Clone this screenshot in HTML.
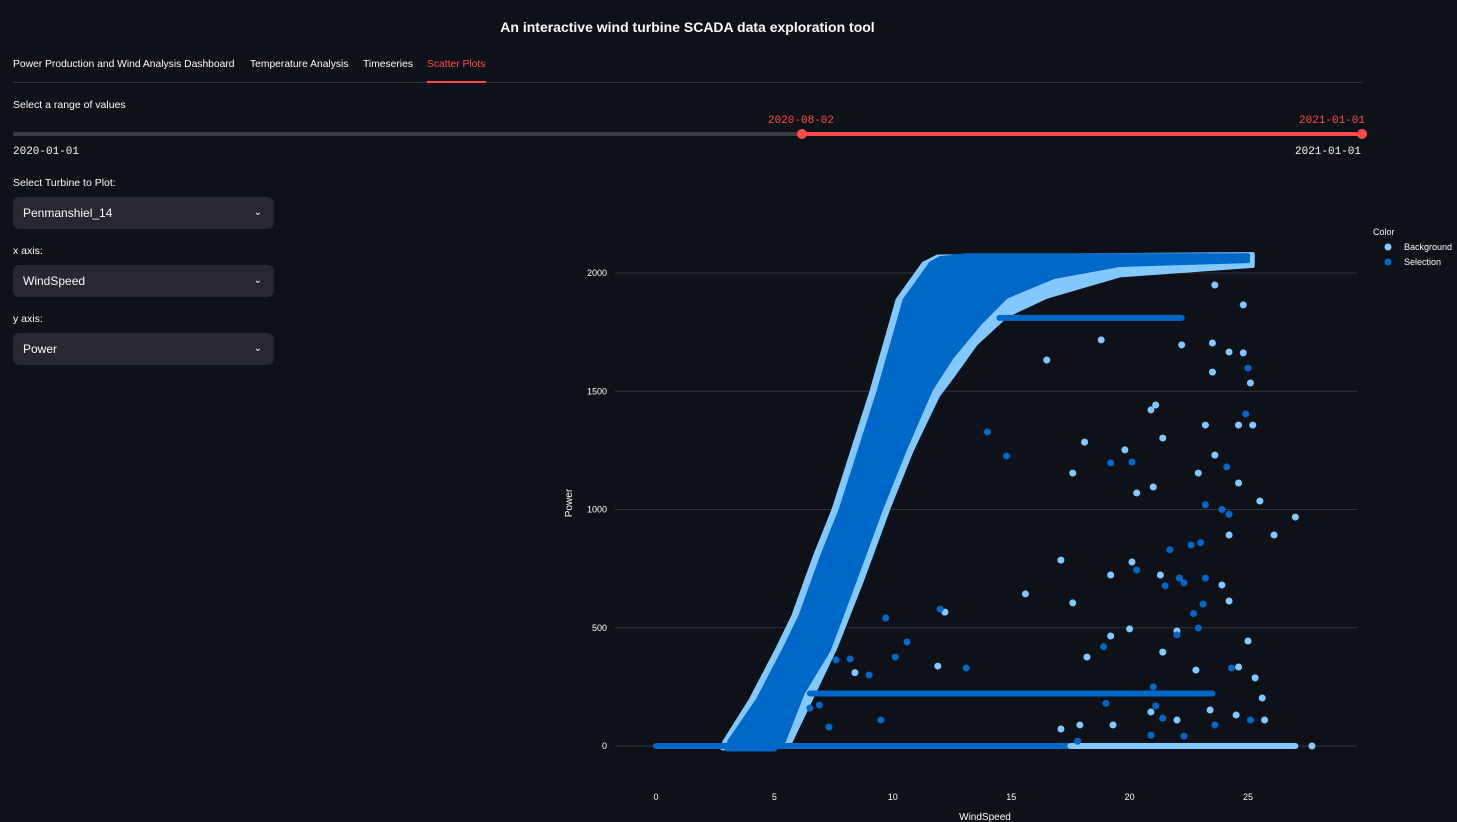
<!DOCTYPE html>
<html><head><meta charset="utf-8">
<style>
body{margin:0;background:#0e1117;width:1457px;height:822px;overflow:hidden;font-family:"Liberation Sans",sans-serif;color:#fafafa;position:relative}
.abs{position:absolute}
.title{left:0;width:1375px;top:19px;text-align:center;font-size:14px;font-weight:bold}
.tab{top:59px;font-size:10.3px;white-space:nowrap}
.lbl{font-size:10.5px}
.mono{font-family:"Liberation Mono",monospace;font-size:11px}
.sel{left:13px;width:261px;height:32px;background:#262730;border-radius:6px;font-size:12px;line-height:32px;text-indent:10px}
.sel span.ch{position:absolute;right:12px;top:0;font-size:10px}
</style></head><body>
<div class="abs title">An interactive wind turbine SCADA data exploration tool</div>
<div class="abs tab" style="left:13px">Power Production and Wind Analysis Dashboard</div>
<div class="abs tab" style="left:250px">Temperature Analysis</div>
<div class="abs tab" style="left:363px">Timeseries</div>
<div class="abs tab" style="left:427px;color:#ff4b4b">Scatter Plots</div>
<div class="abs" style="left:13px;top:82px;width:1349px;height:1px;background:#31333f"></div>
<div class="abs" style="left:427px;top:81px;width:59px;height:2px;background:#ff4b4b"></div>
<div class="abs lbl" style="left:13px;top:99px">Select a range of values</div>
<div class="abs" style="left:13px;top:132px;width:1349px;height:4px;background:#3b3d46;border-radius:2px"></div>
<div class="abs" style="left:802px;top:132px;width:560px;height:4px;background:#ff4b4b"></div>
<div class="abs" style="left:797px;top:129px;width:10px;height:10px;border-radius:50%;background:#ff4b4b"></div>
<div class="abs" style="left:1357px;top:129px;width:10px;height:10px;border-radius:50%;background:#ff4b4b"></div>
<div class="abs mono" style="left:768px;top:115px;color:#ff4b4b">2020-08-02</div>
<div class="abs mono" style="left:1299px;top:115px;color:#ff4b4b">2021-01-01</div>
<div class="abs mono" style="left:13px;top:146px">2020-01-01</div>
<div class="abs mono" style="left:1295px;top:146px">2021-01-01</div>
<div class="abs lbl" style="left:13px;top:177px">Select Turbine to Plot:</div>
<div class="abs sel" style="top:197px">Penmanshiel_14<span class="ch">&#8964;</span></div>
<div class="abs lbl" style="left:13px;top:245px">x axis:</div>
<div class="abs sel" style="top:265px">WindSpeed<span class="ch">&#8964;</span></div>
<div class="abs lbl" style="left:13px;top:313px">y axis:</div>
<div class="abs sel" style="top:333px">Power<span class="ch">&#8964;</span></div>
<svg class="abs" style="left:0;top:0" width="1457" height="822" id="chart"></svg>
<script>
const xTicks=[0,5,10,15,20,25];
const yTicks=[0,500,1000,1500,2000];
// band edges: [wind, power]
const bandLeft=[[3.0,-15],[3.1,20],[4.3,195],[5.4,406],[6.1,550],[7.0,800],[7.8,1000],[8.6,1250],[9.4,1500],[10.5,1886],[11.6,2040],[12.0,2063],[13.1,2075],[25.0,2075]];
const bandRight=[[25.0,2050],[19.6,2034],[16.8,1983],[14.8,1900],[13.7,1789],[12.5,1645],[11.6,1505],[10.5,1250],[9.5,1000],[8.4,700],[7.3,406],[6.2,224],[5.4,20],[5.0,-15]];
const bgLeft=[[2.8,-10],[2.9,20],[4.0,195],[5.1,406],[5.8,550],[6.7,800],[7.5,1000],[8.3,1250],[9.1,1500],[10.2,1886],[11.3,2040],[11.9,2070],[25.2,2080]];
const bgRight=[[25.2,2030],[19.6,1990],[16.5,1900],[14.8,1820],[13.5,1700],[12.5,1560],[11.9,1480],[10.8,1250],[9.8,1000],[8.7,700],[7.6,420],[6.6,210],[5.6,0]];
// horizontal streaks: [wind start, wind end, power, series]
const streaks=[[0,17.5,0,'sel'],[17.5,27.0,0,'bg'],[6.5,23.5,222,'sel'],[14.5,22.2,1810,'sel']];
const bgX=[24.8,24.2,23.5,25.1,21.1,20.9,21.4,18.1,23.2,24.6,25.2,23.6,19.8,17.6,22.9,24.6,20.3,21.0,25.5,27.0,26.1,24.2,17.1,20.1,19.2,21.3,15.6,17.6,23.9,24.2,12.2,19.2,20.0,22.0,25.0,18.2,21.4,24.6,22.8,11.9,25.3,25.6,25.7,24.5,19.3,17.9,17.1,20.9,22.0,23.4,16.5,18.8,23.5,23.6,24.8,22.2,27.7,8.4];
const bgY=[1662,1666,1581,1535,1442,1421,1302,1285,1357,1357,1357,1230,1252,1154,1154,1112,1070,1095,1036,968,892,892,786,778,723,723,643,605,681,613,566,465,495,486,444,376,397,334,321,338,288,203,110,131,89,89,72,144,110,152,1632,1717,1704,1949,1865,1696,0,310];
const selX=[14.0,14.8,19.2,20.1,22.6,23.1,20.3,21.5,22.1,23.2,22.9,24.3,23.6,21.1,21.4,22.3,12.0,9.7,10.6,10.1,8.2,9.5,13.1,24.9,25.0,25.1,20.9,7.6,6.9,23.0,22.0,24.2,19.0,21.0,23.9,6.5,7.3,9.0,23.2,18.9,17.8,21.7,22.7,24.1,22.3];
const selY=[1328,1226,1197,1201,850,600,744,677,710,710,499,330,89,169,118,42,579,541,440,376,368,110,330,1404,1598,110,46,364,173,860,470,980,180,250,1000,160,80,300,1020,420,20,830,560,1180,690];
const svg=document.getElementById('chart');const NS='http://www.w3.org/2000/svg';
const X=v=>656+v*23.68, Y=v=>746-v*0.2365;
const SEL='#0068c9', BG='#83c9ff';
function mk(t,a){const e=document.createElementNS(NS,t);for(const k in a)e.setAttribute(k,a[k]);svg.appendChild(e);return e;}
yTicks.forEach(t=>{const l=mk('line',{x1:615,x2:1357,y1:Y(t),y2:Y(t),stroke:'#31333f','stroke-width':1});


const tx=mk('text',{x:607,y:Y(t)+3,'text-anchor':'end','font-size':9,fill:'#fafafa','font-family':'Liberation Sans,sans-serif'});tx.textContent=t;

});
xTicks.forEach(t=>{const tx=mk('text',{x:X(t),y:800,'text-anchor':'middle','font-size':9,fill:'#fafafa','font-family':'Liberation Sans,sans-serif'});tx.textContent=t;

});
function poly(a,b,c,n){const p=a.concat(b).map(d=>X(d[0])+','+Y(d[1])).join(' ');const e=mk('polygon',{points:p,fill:c,stroke:c,'stroke-width':4,'stroke-linejoin':'round'});

}
poly(bgLeft,bgRight,BG,'background-band');
poly(bandLeft,bandRight,SEL,'selection-band');
streaks.forEach(s=>{const e=mk('line',{x1:X(s[0]),x2:X(s[1]),y1:Y(s[2]),y2:Y(s[2]),stroke:s[3]=='sel'?SEL:BG,'stroke-width':6,'stroke-linecap':'round'});

});
bgX.forEach((v,i)=>{const c=mk('circle',{cx:X(v),cy:Y(bgY[i]),r:3.5,fill:BG});

});
selX.forEach((v,i)=>{const c=mk('circle',{cx:X(v),cy:Y(selY[i]),r:3.5,fill:SEL});

});
const yt=mk('text',{x:572,y:503,'text-anchor':'middle','font-size':10,fill:'#fafafa',transform:'rotate(-90 572 503)','font-family':'Liberation Sans,sans-serif'});yt.textContent='Power';


const xt=mk('text',{x:985,y:820,'text-anchor':'middle','font-size':10,fill:'#fafafa','font-family':'Liberation Sans,sans-serif'});xt.textContent='WindSpeed';


const lt=mk('text',{x:1373,y:235,'font-size':9,fill:'#fafafa','font-family':'Liberation Sans,sans-serif'});lt.textContent='Color';


[['Background',BG,247],['Selection',SEL,262]].forEach(d=>{const c=mk('circle',{cx:1388,cy:d[2],r:3.5,fill:d[1]});


const t=mk('text',{x:1404,y:d[2]+3,'font-size':9,fill:'#fafafa','font-family':'Liberation Sans,sans-serif'});t.textContent=d[0];

});
</script>
</body></html>
